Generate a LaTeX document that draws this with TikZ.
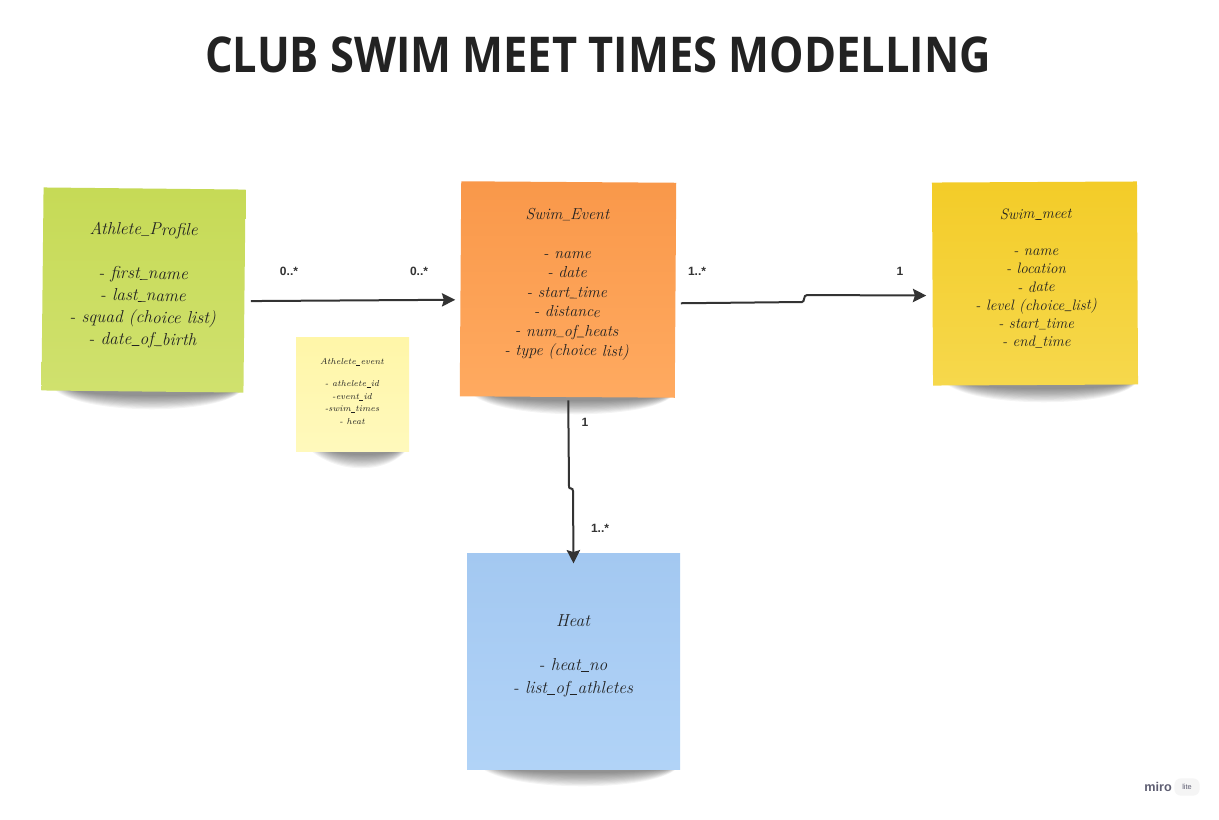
\documentclass[tikz,border=0pt]{standalone}
\usepackage{fontspec}
\newfontfamily\titlefont{Open Sans}
\newfontfamily\labelfont{Liberation Sans}
\usetikzlibrary{arrows.meta}

\definecolor{inkdark}{HTML}{222222}
\definecolor{linegray}{HTML}{333333}
\definecolor{greenA}{HTML}{C6DA56}
\definecolor{greenB}{HTML}{D0E16E}
\definecolor{orangeA}{HTML}{F9984A}
\definecolor{orangeB}{HTML}{FFAA60}
\definecolor{goldA}{HTML}{F3CC28}
\definecolor{goldB}{HTML}{F6D84C}
\definecolor{blueA}{HTML}{A3C8F1}
\definecolor{blueB}{HTML}{B1D3F7}
\definecolor{paleA}{HTML}{FFF6A8}
\definecolor{paleB}{HTML}{FFF9BC}
\definecolor{mirogray}{HTML}{5E5E72}

% connecting underscore for the handwritten field names
\newcommand\us{\kern0.2pt\rule[-0.7pt]{0.45em}{0.45pt}\kern0.2pt}

% soft shadow under the lower edge of a sticky note: left x, right x, bottom y
\newcommand\noteshadow[3]{%
  \foreach \k in {0,...,11}{%
    \fill[black,opacity=0.045]
      (#1+12+\k*1.6,#3-3) .. controls (#1+40,#3+24-\k*1.6) and (#2-20,#3+24-\k*1.6) .. (#2-1-\k*0.5,#3-3) -- cycle;
  }}

\tikzset{
  sticky/.style={rectangle, draw=none, inner sep=0pt, shading=axis, shading angle=0},
  notetext/.style={align=center, text=inkdark, inner sep=0pt, font=\itshape},
  card/.style={font=\labelfont\bfseries\fontsize{9}{10}\selectfont, text=linegray, inner sep=0pt},
  link/.style={draw=linegray, line width=1.5pt, -{Stealth[length=10pt,width=10pt,inset=1.5pt]}},
}

\begin{document}
\begin{tikzpicture}[x=0.75pt,y=-0.75pt]
\useasboundingbox[fill=white] (0,0) rectangle (1219,819);

% heading
\node (title) at (598,55) {\titlefont\bfseries\fontsize{37}{40}\selectfont\color{inkdark}\scalebox{0.88}[1]{CLUB SWIM MEET TIMES MODELLING}};

% shadows
\noteshadow{42}{244}{392}
\noteshadow{296}{409}{451}
\noteshadow{460}{675}{397}
\noteshadow{932}{1138}{385}
\noteshadow{467}{680}{769}

% sticky notes
\node[sticky, minimum width=151.5pt, minimum height=152.25pt, top color=greenA, bottom color=greenB, rotate=-0.6] (ap) at (143.5,290) {};
\node[sticky, minimum width=84.75pt, minimum height=85.5pt, top color=paleA, bottom color=paleB] (ae) at (352.5,394) {};
\node[sticky, minimum width=161.25pt, minimum height=161.25pt, top color=orangeA, bottom color=orangeB, rotate=-0.4] (se) at (568,289.5) {};
\node[sticky, minimum width=153.75pt, minimum height=152.25pt, top color=goldA, bottom color=goldB, rotate=0.3] (sm) at (1035,283.5) {};
\node[sticky, minimum width=159.75pt, minimum height=162pt, top color=blueA, bottom color=blueB] (ht) at (573.5,661) {};

% note contents
\node[notetext, rotate=-0.6, font=\itshape\fontsize{13}{16.5}\selectfont] (apt) at (143,285.5)
  {Athlete\us Profile\\[16.5pt]- first\us name\\- last\us name\\- squad (choice list)\\- date\us of\us birth};
\node[notetext, font=\itshape\fontsize{6.5}{9.5}\selectfont] (aet) at (352,391.5)
  {Athelete\us event\\[7pt]- athelete\us id\\-event\us id\\-swim\us times\\- heat};
\node[notetext, rotate=-0.4, font=\itshape\fontsize{12}{14.6}\selectfont] (set) at (567,284)
  {Swim\us Event\\[14.6pt]- name\\- date\\- start\us time\\- distance\\- num\us of\us heats\\- type (choice list)};
\node[notetext, rotate=0.3, font=\itshape\fontsize{11.3}{13.7}\selectfont] (smt) at (1036,278)
  {Swim\us meet\\[13.7pt]- name\\- location\\- date\\- level (choice\us list)\\- start\us time\\- end\us time};
\node[notetext, font=\itshape\fontsize{13}{17}\selectfont] (htt) at (573,656)
  {Heat\\[16pt]- heat\us no\\- list\us of\us athletes};

% relationships
\draw[link] ([shift={(6,10)}]ap.east) -- ([shift={(-5,11)}]se.west);
\draw[link] ([shift={(5,13)}]se.east) -- (802,302) .. controls (805,302) and (803,295) .. (807,295) -- ([shift={(-6,11.5)}]sm.west);
\draw[link] ([shift={(1,3)}]se.south) -- (569,487) .. controls (569,489.5) and (573,487) .. (573,491) -- ([yshift=-8]ht.north);

% multiplicities
\node[card] (m1) at (289,271) {0..*};
\node[card] (m2) at (419,271) {0..*};
\node[card] (m3) at (697,271) {1..*};
\node[card] (m4) at (900,271) {1};
\node[card] (m5) at (585,422) {1};
\node[card] (m6) at (600,528) {1..*};

% badge
\node[font=\labelfont\bfseries\fontsize{9.5}{10}\selectfont, text=mirogray, inner sep=0pt] (miro) at (1158,787) {miro};
\node[fill=black!4, rounded corners=5pt, minimum width=19pt, minimum height=13pt, inner sep=0pt,
      font=\labelfont\fontsize{5.5}{6}\selectfont, text=mirogray] (lite) at (1187,787) {lite};
\end{tikzpicture}
\end{document}
